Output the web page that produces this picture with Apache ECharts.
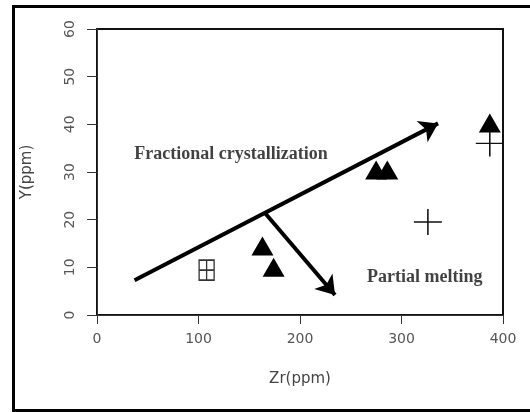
<!DOCTYPE html>
<html><head><meta charset="utf-8">
<script src="https://cdn.jsdelivr.net/npm/echarts@6/dist/echarts.min.js"></script>
<style>html,body{margin:0;padding:0;background:#fff}#c{width:530px;height:412px}</style>
</head><body><div id="c"></div>
<script>
// data
const triangles = [[163,14.5],[174,10],[275,30.4],[286,30.4],[387,40.3]];
const pluses = [[326,19.5],[387,36]];
const boxPlus = [[108,9.4]];
const arrowFC = [[37,7.3],[336,40.2]];
const arrowPM = [[165.5,21.4],[234.5,4.2]];
const labels = [
  {name:'Fractional crystallization', value:[132,33.6]},
  {name:'Partial melting', value:[323,8]}
];
const xTicks = [0,100,200,300,400];
const yTicks = [0,10,20,30,40,50,60];

const chart = echarts.init(document.getElementById('c'), null, {renderer:'canvas'});
const boxPath = 'path://M0,0 L10,0 L10,12 L0,12 Z M0,6 L10,6 M5,0 L5,12';
chart.setOption({
  animation:false,
  backgroundColor:'#fff',
  graphic:[{type:'rect', shape:{x:13.5,y:6.5,width:530,height:404}, style:{fill:'none', stroke:'#000', lineWidth:3}, z:100}],
  grid:{left:97,right:27,top:29,bottom:97,show:true,borderColor:'#111',borderWidth:2},
  xAxis:{type:'value',min:0,max:400,interval:100,
    name:'Zr(ppm)',nameLocation:'middle',nameGap:57,
    nameTextStyle:{fontFamily:'DejaVu Sans',fontSize:15,color:'#444'},
    axisLine:{show:true,lineStyle:{color:'#333',width:1}},
    axisTick:{show:true,length:9,inside:false,lineStyle:{color:'#333'}},
    axisLabel:{fontFamily:'DejaVu Sans',fontSize:14,color:'#555',margin:17,
      formatter:v=>xTicks.includes(v)?String(v):''},
    splitLine:{show:false}},
  yAxis:{type:'value',min:0,max:60,interval:10,
    name:'Y(ppm)',nameLocation:'middle',nameGap:62,nameRotate:90,
    nameTextStyle:{fontFamily:'DejaVu Sans',fontSize:15,color:'#444'},
    axisLine:{show:true,lineStyle:{color:'#333',width:1}},
    axisTick:{show:true,length:10,inside:false,lineStyle:{color:'#333'}},
    axisLabel:{fontFamily:'DejaVu Sans',fontSize:14,color:'#555',rotate:90,margin:20,
      formatter:v=>yTicks.includes(v)?String(v):''},
    splitLine:{show:false}},
  series:[
    {type:'scatter',data:triangles,symbol:'triangle',symbolSize:[22,19],itemStyle:{color:'#000',opacity:1},z:5},
    {type:'scatter',data:pluses,symbol:'path://M0,14 L28,14 M14,0 L14,28',symbolSize:[28,26],
      itemStyle:{color:'none',borderColor:'#111',borderWidth:1.5,opacity:1},z:5},
    {type:'scatter',data:boxPlus,symbol:boxPath,symbolSize:[15,20],
      itemStyle:{color:'none',borderColor:'#333',borderWidth:1.5,opacity:1},z:5},
    {type:'lines',coordinateSystem:'cartesian2d',polyline:false,
      data:[{coords:arrowFC},{coords:arrowPM}],
      symbol:['none','arrow'],symbolSize:[0,18],
      lineStyle:{color:'#000',width:4,opacity:1},z:6},
    {type:'scatter',data:labels,symbolSize:0,
      label:{show:true,position:'inside',formatter:p=>p.name,
        fontFamily:'Liberation Serif',fontWeight:'bold',fontSize:18,color:'#111'},z:7}
  ]
});
</script></body></html>
